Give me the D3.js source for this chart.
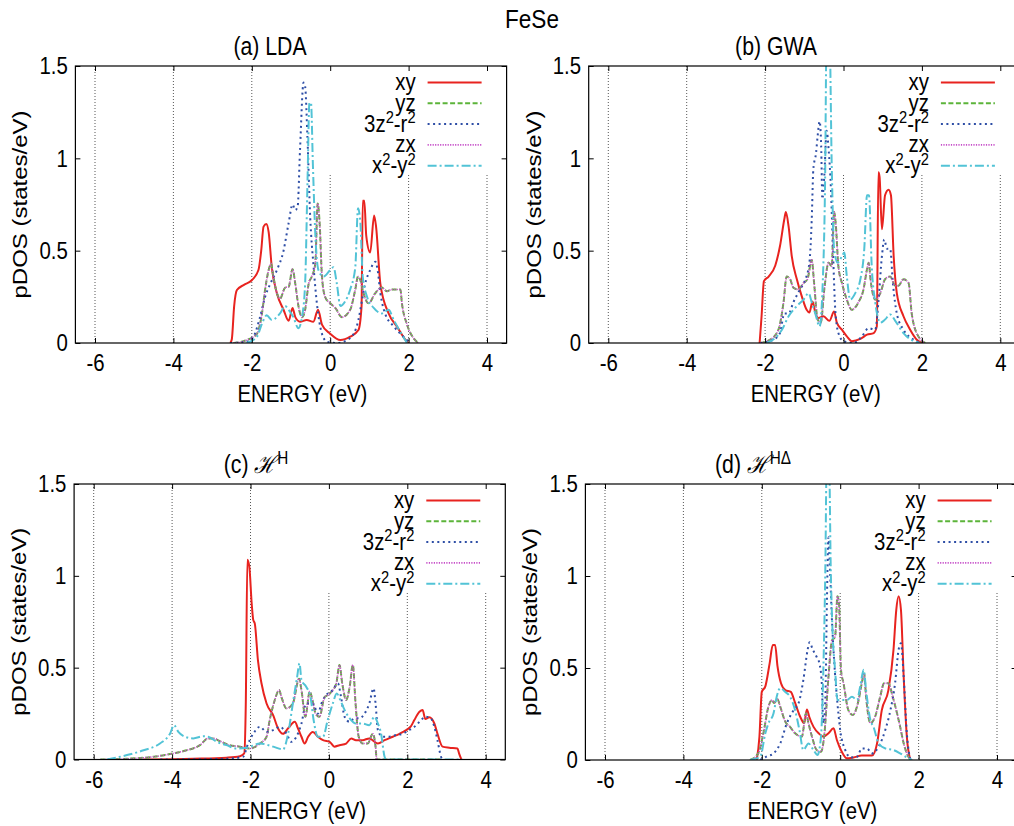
<!DOCTYPE html>
<html>
<head>
<meta charset="utf-8">
<script src="https://cdn.jsdelivr.net/npm/d3@7"></script>
<style>
  body { margin: 0; background: #fff; }
  svg { display: block; font-family: "Liberation Sans", Arial, sans-serif; }
</style>
</head>
<body>
<div id="chart"></div>
<script>
// energy (eV) and pDOS (states/eV) pairs
const xTicks = [-6, -4, -2, 0, 2, 4];
const yTicks = [0, 0.5, 1, 1.5];
const yTickLabels = ['0', '0.5', '1', '1.5'];

// (a) LDA
const ldaXY = [[-2.55,0],[-2.51,0.02],[-2.45,0.2],[-2.38,0.287],[-2.2,0.315],[-2.0,0.34],[-1.83,0.395],[-1.76,0.5],[-1.70,0.63],[-1.63,0.645],[-1.57,0.60],[-1.49,0.41],[-1.36,0.27],[-1.19,0.18],[-1.06,0.12],[-0.96,0.19],[-0.89,0.14],[-0.77,0.115],[-0.60,0.125],[-0.43,0.115],[-0.31,0.18],[-0.21,0.10],[0,0.05],[0.26,0.016],[0.51,0.034],[0.72,0.07],[0.80,0.20],[0.83,0.77],[0.87,0.77],[0.92,0.58],[1.02,0.49],[1.12,0.69],[1.17,0.63],[1.28,0.32],[1.49,0.16],[1.70,0.09],[1.96,0.007],[2.0,0]];
const ldaYZ = [[-2.47,0],[-2.13,0.016],[-1.87,0.05],[-1.74,0.16],[-1.66,0.29],[-1.57,0.395],[-1.51,0.43],[-1.45,0.36],[-1.36,0.27],[-1.28,0.24],[-1.15,0.30],[-1.06,0.305],[-0.96,0.40],[-0.89,0.32],[-0.81,0.20],[-0.72,0.14],[-0.64,0.18],[-0.55,0.32],[-0.47,0.36],[-0.38,0.43],[-0.32,0.756],[-0.27,0.65],[-0.21,0.36],[-0.13,0.25],[0,0.215],[0.13,0.19],[0.30,0.14],[0.51,0.18],[0.64,0.29],[0.71,0.36],[0.77,0.34],[0.85,0.27],[0.98,0.215],[1.15,0.27],[1.32,0.30],[1.45,0.28],[1.57,0.29],[1.70,0.29],[1.79,0.29],[1.83,0.215],[1.96,0.10],[2.13,0.025],[2.25,0]];
const ldaZ2 = [[-2.55,0],[-2.13,0.007],[-1.96,0.034],[-1.79,0.14],[-1.66,0.25],[-1.53,0.32],[-1.36,0.395],[-1.19,0.50],[-1.06,0.65],[-0.96,0.75],[-0.89,0.72],[-0.83,0.74],[-0.77,1.045],[-0.68,1.41],[-0.64,1.39],[-0.58,1.11],[-0.51,0.68],[-0.43,0.43],[-0.34,0.215],[-0.21,0.05],[-0.085,0.007],[0.17,0],[0.43,0.016],[0.6,0.05],[0.72,0.125],[0.81,0.23],[0.89,0.32],[1.02,0.395],[1.15,0.44],[1.21,0.395],[1.28,0.27],[1.40,0.16],[1.62,0.09],[1.87,0.034],[2.04,0]];
const ldaZX = ldaYZ; // zx lies on top of yz
const ldaX2Y2 = [[-2.13,0],[-1.87,0.034],[-1.74,0.105],[-1.62,0.15],[-1.49,0.125],[-1.28,0.16],[-1.15,0.20],[-1.06,0.18],[-0.94,0.14],[-0.81,0.08],[-0.72,0.14],[-0.64,0.32],[-0.58,0.865],[-0.53,1.30],[-0.49,1.30],[-0.44,0.955],[-0.38,0.59],[-0.30,0.395],[-0.17,0.36],[0,0.395],[0.085,0.41],[0.17,0.32],[0.26,0.20],[0.38,0.225],[0.51,0.29],[0.64,0.41],[0.71,0.73],[0.77,0.65],[0.83,0.36],[0.94,0.25],[1.11,0.19],[1.32,0.16],[1.49,0.18],[1.62,0.125],[1.79,0.06],[1.96,0]];

// (b) GWA
const gwaXY = [[-2.14,0],[-2.09,0.145],[-2.03,0.335],[-1.91,0.36],[-1.74,0.42],[-1.62,0.525],[-1.51,0.67],[-1.47,0.71],[-1.40,0.63],[-1.32,0.47],[-1.19,0.345],[-1.06,0.25],[-0.94,0.18],[-0.87,0.165],[-0.79,0.225],[-0.72,0.165],[-0.64,0.135],[-0.51,0.145],[-0.36,0.12],[-0.24,0.17],[-0.17,0.11],[-0.04,0.072],[0.085,0.036],[0.21,0.01],[0.43,0.022],[0.60,0.045],[0.77,0.054],[0.85,0.09],[0.89,0.924],[0.92,0.9],[0.98,0.616],[1.06,0.80],[1.15,0.83],[1.21,0.80],[1.28,0.47],[1.36,0.27],[1.53,0.145],[1.70,0.072],[1.87,0.018],[2.0,0]];
const gwaYZ = [[-2.13,0],[-1.87,0.018],[-1.66,0.072],[-1.53,0.22],[-1.45,0.36],[-1.36,0.345],[-1.28,0.30],[-1.15,0.29],[-1.02,0.325],[-0.92,0.345],[-0.81,0.45],[-0.75,0.325],[-0.66,0.127],[-0.58,0.11],[-0.49,0.29],[-0.38,0.435],[-0.30,0.415],[-0.24,0.71],[-0.20,0.65],[-0.13,0.415],[-0.04,0.325],[0.085,0.235],[0.21,0.18],[0.38,0.22],[0.51,0.29],[0.60,0.40],[0.64,0.435],[0.70,0.325],[0.81,0.235],[0.94,0.27],[1.06,0.345],[1.19,0.36],[1.32,0.31],[1.40,0.31],[1.53,0.345],[1.66,0.325],[1.74,0.16],[1.91,0.036],[2.09,0]];
const gwaZ2 = [[-2.13,0],[-1.79,0.018],[-1.62,0.054],[-1.51,0.16],[-1.40,0.16],[-1.28,0.22],[-1.11,0.29],[-0.98,0.34],[-0.87,0.435],[-0.81,0.67],[-0.77,0.94],[-0.70,1.03],[-0.66,1.12],[-0.61,1.20],[-0.57,1.07],[-0.54,0.78],[-0.49,0.905],[-0.43,1.15],[-0.38,1.05],[-0.32,0.83],[-0.27,0.51],[-0.21,0.18],[-0.13,0.054],[0,0.01],[0.26,0],[0.47,0.036],[0.64,0.08],[0.81,0.072],[0.89,0.22],[0.98,0.47],[1.04,0.56],[1.11,0.51],[1.19,0.51],[1.26,0.325],[1.36,0.16],[1.53,0.072],[1.79,0.018],[2.0,0]];
const gwaZX = gwaYZ;
const gwaX2Y2 = [[-1.96,0],[-1.70,0.036],[-1.57,0.072],[-1.40,0.145],[-1.19,0.20],[-1.02,0.235],[-0.89,0.27],[-0.81,0.22],[-0.72,0.16],[-0.61,0.09],[-0.53,0.325],[-0.47,0.87],[-0.43,1.7],[-0.36,1.7],[-0.30,0.96],[-0.24,0.51],[-0.15,0.435],[-0.04,0.47],[0.02,0.49],[0.085,0.36],[0.17,0.235],[0.30,0.27],[0.43,0.345],[0.53,0.51],[0.60,0.80],[0.65,0.80],[0.72,0.415],[0.81,0.22],[0.94,0.11],[1.06,0.127],[1.19,0.155],[1.32,0.12],[1.53,0.054],[1.79,0.01],[1.96,0]];

// (c) H^H
const hhXY = [[-4.73,0],[-3.46,0.004],[-2.61,0.01],[-2.27,0.018],[-2.16,0.033],[-2.12,0.305],[-2.08,1.087],[-2.03,1.05],[-1.97,0.85],[-1.93,0.76],[-1.89,0.74],[-1.81,0.54],[-1.72,0.415],[-1.59,0.305],[-1.42,0.24],[-1.30,0.17],[-1.17,0.14],[-1.04,0.17],[-0.87,0.205],[-0.79,0.17],[-0.70,0.124],[-0.62,0.087],[-0.53,0.124],[-0.41,0.15],[-0.28,0.124],[-0.15,0.105],[0.02,0.096],[0.14,0.07],[0.27,0.078],[0.44,0.087],[0.57,0.115],[0.69,0.105],[0.86,0.105],[1.03,0.115],[1.25,0.087],[1.42,0.105],[1.63,0.124],[1.80,0.14],[1.97,0.16],[2.09,0.18],[2.18,0.215],[2.31,0.26],[2.39,0.27],[2.46,0.22],[2.56,0.23],[2.69,0.196],[2.77,0.14],[2.90,0.07],[3.07,0.064],[3.28,0.06],[3.32,0.033],[3.38,0]];
const hhYZ = [[-5.83,0],[-5.15,0.004],[-4.47,0.015],[-3.97,0.033],[-3.63,0.05],[-3.29,0.078],[-3.08,0.115],[-2.95,0.115],[-2.78,0.10],[-2.53,0.078],[-2.27,0.07],[-2.02,0.06],[-1.76,0.087],[-1.59,0.124],[-1.51,0.215],[-1.38,0.324],[-1.27,0.378],[-1.21,0.34],[-1.08,0.278],[-0.92,0.305],[-0.76,0.44],[-0.70,0.378],[-0.60,0.233],[-0.49,0.37],[-0.42,0.324],[-0.34,0.25],[-0.24,0.233],[-0.11,0.34],[-0.03,0.35],[0.10,0.378],[0.19,0.415],[0.27,0.515],[0.34,0.415],[0.44,0.324],[0.53,0.396],[0.61,0.515],[0.68,0.305],[0.76,0.124],[0.86,0.087],[0.99,0.087],[1.12,0.14],[1.19,0.07],[1.22,0],[2.9,0]];
const hhZ2 = [[-4.3,0],[-2.6,0.004],[-2.19,0.015],[-2.06,0.087],[-1.93,0.14],[-1.76,0.178],[-1.59,0.15],[-1.42,0.16],[-1.25,0.178],[-1.08,0.14],[-0.96,0.096],[-0.83,0.124],[-0.70,0.196],[-0.58,0.305],[-0.41,0.305],[-0.28,0.25],[-0.19,0.305],[-0.07,0.35],[0.10,0.378],[0.23,0.415],[0.31,0.34],[0.40,0.233],[0.53,0.205],[0.65,0.224],[0.78,0.224],[0.91,0.25],[1.03,0.305],[1.14,0.387],[1.19,0.305],[1.25,0.16],[1.37,0.124],[1.54,0.124],[1.71,0.133],[1.88,0.14],[2.05,0.16],[2.18,0.178],[2.31,0.205],[2.47,0.233],[2.60,0.224],[2.69,0.178],[2.77,0.105],[2.86,0.015],[2.90,0]];
const hhZX = hhYZ;
const hhX2Y2 = [[-5.66,0],[-5.15,0.024],[-4.73,0.05],[-4.31,0.087],[-4.05,0.142],[-3.95,0.187],[-3.84,0.15],[-3.67,0.124],[-3.46,0.115],[-3.20,0.127],[-3.08,0.124],[-2.86,0.096],[-2.61,0.078],[-2.36,0.06],[-2.10,0.064],[-1.76,0.087],[-1.42,0.07],[-1.17,0.055],[-1.04,0.142],[-0.92,0.305],[-0.81,0.45],[-0.75,0.524],[-0.70,0.433],[-0.58,0.396],[-0.47,0.34],[-0.39,0.215],[-0.28,0.124],[-0.15,0.124],[-0.03,0.215],[0.10,0.305],[0.20,0.36],[0.29,0.324],[0.40,0.27],[0.53,0.224],[0.69,0.196],[0.86,0.196],[1.03,0.187],[1.16,0.233],[1.25,0.196],[1.33,0.142],[1.42,0.015],[1.46,0],[3.4,0]];

// (d) H^HΔ
const hdXY = [[-2.13,0],[-2.06,0.127],[-2.0,0.37],[-1.91,0.40],[-1.80,0.525],[-1.72,0.625],[-1.66,0.625],[-1.60,0.51],[-1.51,0.417],[-1.40,0.38],[-1.26,0.37],[-1.15,0.31],[-1.02,0.235],[-0.92,0.20],[-0.85,0.275],[-0.79,0.235],[-0.68,0.18],[-0.55,0.145],[-0.43,0.127],[-0.30,0.145],[-0.17,0.172],[-0.085,0.109],[0.04,0.045],[0.17,0.009],[0.34,0.014],[0.55,0.024],[0.81,0.024],[0.94,0.09],[1.06,0.27],[1.23,0.38],[1.36,0.60],[1.43,0.815],[1.49,0.89],[1.55,0.815],[1.62,0.45],[1.70,0.127],[1.79,0]];
const hdYZ = [[-2.30,0],[-2.09,0.036],[-1.96,0.145],[-1.83,0.29],[-1.74,0.326],[-1.69,0.31],[-1.60,0.33],[-1.53,0.29],[-1.40,0.208],[-1.28,0.18],[-1.15,0.145],[-0.98,0.127],[-0.87,0.254],[-0.81,0.20],[-0.72,0.127],[-0.60,0.054],[-0.49,0.045],[-0.41,0.127],[-0.30,0.45],[-0.21,0.65],[-0.13,0.67],[-0.07,0.89],[-0.03,0.85],[0.02,0.49],[0.085,0.417],[0.21,0.27],[0.32,0.245],[0.47,0.326],[0.55,0.417],[0.61,0.47],[0.66,0.344],[0.77,0.20],[0.89,0.235],[1.02,0.344],[1.12,0.417],[1.23,0.417],[1.34,0.344],[1.45,0.254],[1.53,0.18],[1.62,0.09],[1.74,0.018],[1.83,0]];
const hdZ2 = [[-2.04,0],[-1.87,0.02],[-1.70,0.036],[-1.53,0.09],[-1.36,0.20],[-1.19,0.27],[-1.06,0.31],[-0.94,0.435],[-0.83,0.60],[-0.78,0.64],[-0.70,0.60],[-0.60,0.56],[-0.53,0.525],[-0.47,0.417],[-0.43,0.20],[-0.38,0.326],[-0.34,0.85],[-0.30,1.21],[-0.26,1.03],[-0.21,0.76],[-0.15,0.525],[-0.085,0.344],[0,0.163],[0.13,0.054],[0.26,0.014],[0.43,0.018],[0.55,0.063],[0.68,0.063],[0.81,0.036],[0.98,0.072],[1.15,0.163],[1.28,0.27],[1.40,0.417],[1.49,0.60],[1.55,0.634],[1.62,0.45],[1.70,0.145],[1.79,0]];
const hdZX = hdYZ;
const hdX2Y2 = [[-2.30,0],[-2.04,0.018],[-1.91,0.145],[-1.83,0.20],[-1.70,0.254],[-1.62,0.344],[-1.53,0.39],[-1.40,0.37],[-1.28,0.344],[-1.15,0.27],[-1.04,0.163],[-0.94,0.054],[-0.81,0.09],[-0.68,0.054],[-0.58,0.027],[-0.49,0.127],[-0.43,0.49],[-0.38,1.03],[-0.34,1.7],[-0.29,1.7],[-0.24,1.03],[-0.19,0.67],[-0.13,0.49],[-0.07,0.326],[0.04,0.326],[0.17,0.326],[0.30,0.344],[0.43,0.326],[0.51,0.40],[0.60,0.49],[0.66,0.38],[0.77,0.217],[0.85,0.18],[0.98,0.09],[1.15,0.063],[1.36,0.054],[1.53,0.036],[1.70,0.014],[1.83,0]];

// legend labels, split into [text, superscript?] runs
const orbitals = [
  [['xy']],
  [['yz']],
  [['3z'], ['2', 1], ['-r'], ['2', 1]],
  [['zx']],
  [['x'], ['2', 1], ['-y'], ['2', 1]]
];
const colours = ['#e8231f', '#5cb43a', '#2e4ea6', '#c64fc8', '#52c3d6'];
const dashes = [null, '5,2.5', '2,3.5', '1.2,1.3', '9,3,2,3'];
const widths = [2, 2, 2, 1.6, 2];

const panels = [
  {title: [['(a) LDA']], series: [ldaXY, ldaYZ, ldaZ2, ldaZX, ldaX2Y2],
   left: 75.4, top: 66, bottom: 343, titleX: 270, titleY: 55},
  {title: [['(b) GWA']], series: [gwaXY, gwaYZ, gwaZ2, gwaZX, gwaX2Y2],
   left: 588.7, top: 66, bottom: 343, titleX: 776, titleY: 55},
  {title: [['(c) '], ['ℋ', 'm'], ['H', 1]], series: [hhXY, hhYZ, hhZ2, hhZX, hhX2Y2],
   left: 74.1, top: 484, bottom: 759.5, titleX: 256, titleY: 473},
  {title: [['(d) '], ['ℋ', 'm'], ['HΔ', 1]], series: [hdXY, hdYZ, hdZ2, hdZX, hdX2Y2],
   left: 585.4, top: 484, bottom: 760, titleX: 753, titleY: 473}
];
const plotWidth = 431.2;
const fs = 24, squeeze = 0.85; // the source text is stretched vertically

const svg = d3.select('#chart').append('svg')
    .attr('width', 1014)
    .attr('height', 826);

// text helper: squeezed horizontally on screen, with optional superscript runs
function label(g, x, y, runs, anchor, size, rot) {
  size = size || fs;
  const t = g.append('text')
      .attr('transform', `translate(${x},${y})` +
        (rot ? ` rotate(${rot}) scale(1,${squeeze})` : ` scale(${squeeze},1)`))
      .attr('text-anchor', anchor || 'middle')
      .attr('font-size', size)
      .attr('fill', '#000');
  let up = false;
  runs.forEach(r => {
    const s = t.append('tspan').text(r[0]);
    if (r[1] === 1) {
      s.attr('font-size', size * 0.72).attr('dy', up ? 0 : -size * 0.36);
      up = true;
    } else {
      if (up) s.attr('dy', size * 0.36);
      up = false;
      if (r[1] === 'm') s.attr('font-family', '"DejaVu Serif", serif').attr('font-style', 'italic');
    }
  });
  return t;
}

label(svg, 532, 28, [['FeSe']], 'middle', 26.5);

panels.forEach((p, pi) => {
  const x = d3.scaleLinear().domain([-6.5, 4.5]).range([p.left, p.left + plotWidth]);
  const y = d3.scaleLinear().domain([0, 1.5]).range([p.bottom, p.top]);
  const g = svg.append('g');

  const clipId = 'clip' + pi;
  g.append('clipPath').attr('id', clipId)
    .append('rect')
      .attr('x', p.left).attr('y', p.top)
      .attr('width', plotWidth).attr('height', p.bottom - p.top);

  const legendBottom = p.top + 109;

  // vertical grid, hidden behind the key on the right
  g.selectAll('.grid')
    .data(xTicks)
    .enter().append('line')
      .attr('x1', d => x(d)).attr('x2', d => x(d))
      .attr('y1', d => d > -1 ? legendBottom : p.top)
      .attr('y2', p.bottom)
      .attr('stroke', '#444')
      .attr('stroke-width', 0.9)
      .attr('stroke-dasharray', '1,2');

  // curves
  const line = d3.line()
      .x(d => x(d[0]))
      .y(d => y(d[1]))
      .curve(d3.curveMonotoneX);

  g.append('g').attr('clip-path', `url(#${clipId})`)
    .selectAll('path')
    .data(p.series)
    .enter().append('path')
      .attr('d', line)
      .attr('fill', 'none')
      .attr('stroke', (d, i) => colours[i])
      .attr('stroke-width', (d, i) => widths[i])
      .attr('stroke-dasharray', (d, i) => dashes[i])
      .attr('stroke-linejoin', 'round');

  // axes, ticks pointing inwards, mirrored on top and right
  const bottomAxis = g.append('g')
      .attr('transform', `translate(0,${p.bottom})`)
      .call(d3.axisBottom(x).tickValues(xTicks).tickSizeInner(-5).tickSizeOuter(0).tickPadding(11)
        .tickFormat(d => String(d)));
  g.append('g')
      .attr('transform', `translate(0,${p.top})`)
      .call(d3.axisTop(x).tickValues(xTicks).tickSizeInner(-5).tickSizeOuter(0).tickFormat(''));
  const leftAxis = g.append('g')
      .attr('transform', `translate(${p.left},0)`)
      .call(d3.axisLeft(y).tickValues(yTicks).tickSizeInner(-5).tickSizeOuter(0).tickPadding(9)
        .tickFormat((d, i) => yTickLabels[i]));
  g.append('g')
      .attr('transform', `translate(${p.left + plotWidth},0)`)
      .call(d3.axisRight(y).tickValues(yTicks).tickSizeInner(-5).tickSizeOuter(0).tickFormat(''));

  g.selectAll('.domain').remove();
  g.selectAll('.tick line').attr('stroke', '#000');
  [bottomAxis, leftAxis].forEach(a => {
    a.attr('font-family', null).attr('font-size', fs);
    a.selectAll('text').attr('fill', '#000').attr('transform', `scale(${squeeze},1)`);
  });

  g.append('rect')
      .attr('x', p.left).attr('y', p.top)
      .attr('width', plotWidth).attr('height', p.bottom - p.top)
      .attr('fill', 'none')
      .attr('stroke', '#000')
      .attr('stroke-width', 1.2);

  // key
  const right = p.left + plotWidth;
  orbitals.forEach((o, i) => {
    const ly = p.top + 16.5 + i * 20.8;
    label(g, right - 91, ly + 7.5, o, 'end');
    g.append('line')
        .attr('x1', right - 79).attr('x2', right - 25)
        .attr('y1', ly).attr('y2', ly)
        .attr('stroke', colours[i])
        .attr('stroke-width', widths[i])
        .attr('stroke-dasharray', dashes[i]);
  });

  // titles and axis labels
  label(g, p.titleX, p.titleY, p.title, 'middle', 25);
  label(g, p.left + 227, p.bottom + 59, [['ENERGY (eV)']]);
  label(g, p.left - 48, (p.top + p.bottom) / 2, [['pDOS (states/eV)']], 'middle', fs, -90);
});
</script>
</body>
</html>
